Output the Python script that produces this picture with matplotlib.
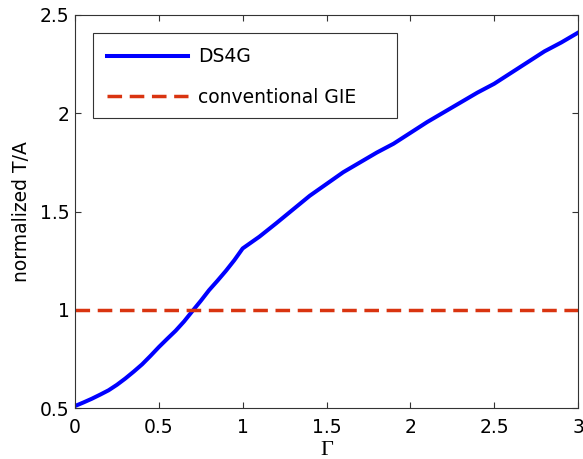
import matplotlib
matplotlib.use('Agg')
import matplotlib.pyplot as plt
from matplotlib.patches import Rectangle

# normalized throughput/area versus Gamma
gamma = [0.0, 0.05, 0.1, 0.15, 0.2, 0.25, 0.3, 0.35, 0.4, 0.45, 0.5,
         0.55, 0.6, 0.65, 0.7, 0.75, 0.8, 0.85, 0.9, 0.95, 1.0,
         1.05, 1.1, 1.2, 1.3, 1.4, 1.5, 1.6, 1.7, 1.8, 1.9, 2.0,
         2.1, 2.2, 2.3, 2.4, 2.5, 2.6, 2.7, 2.8, 2.9, 3.0]
ds4g = [0.51, 0.528, 0.547, 0.568, 0.59, 0.618, 0.65, 0.685, 0.722, 0.765, 0.81,
        0.852, 0.893, 0.94, 0.993, 1.045, 1.10, 1.148, 1.198, 1.252, 1.312,
        1.342, 1.372, 1.44, 1.51, 1.58, 1.64, 1.70, 1.75, 1.80, 1.845, 1.90,
        1.955, 2.005, 2.055, 2.105, 2.15, 2.205, 2.26, 2.315, 2.36, 2.41]
conventional = [1.0] * len(gamma)

x_ticks = [0, 0.5, 1, 1.5, 2, 2.5, 3]
x_ticklabels = ['0', '0.5', '1', '1.5', '2', '2.5', '3']
y_ticks = [0.5, 1, 1.5, 2, 2.5]
y_ticklabels = ['0.5', '1', '1.5', '2', '2.5']

plt.rcParams['font.family'] = ['DejaVu Sans']

W, H = 583, 459
fig = plt.figure(figsize=(W / 100, H / 100), dpi=100)
ax = fig.add_axes([75 / W, 1 - 408 / H, 503 / W, 393 / H])

ax.plot(gamma, ds4g, color='#0000ff', linewidth=2.9, label='DS4G')
ax.plot(gamma, conventional, color='#d93410', linewidth=2.5,
        dashes=(4.2, 2.2), label='conventional GIE')

ax.set_xlim(0, 3)
ax.set_ylim(0.5, 2.5)
ax.set_xticks(x_ticks)
ax.set_xticklabels(x_ticklabels)
ax.set_yticks(y_ticks)
ax.set_yticklabels(y_ticklabels)
ax.tick_params(direction='in', length=4, width=0.8, labelsize=13.5,
               top=True, right=True, colors='#333333', labelcolor='black')
ax.tick_params(axis='x', pad=7)
ax.tick_params(axis='y', pad=4)
for spine in ax.spines.values():
    spine.set_color('#333333')
    spine.set_linewidth(0.8)

ax.set_xlabel('Γ', fontsize=16, labelpad=3, fontfamily='Liberation Serif')
ax.set_ylabel('normalized T/A', fontsize=13.5, labelpad=6)

# legend entries without their own frame; a wider box is drawn behind them
leg = ax.legend(loc='upper left', bbox_to_anchor=(93 / W, 1 - 33 / H),
                bbox_transform=fig.transFigure, borderaxespad=0,
                fontsize=13.5, handlelength=4.3, handletextpad=0.55,
                labelspacing=1.15, borderpad=0.75, frameon=False)
leg.set_zorder(6)
box = Rectangle((93 / W, 1 - 118 / H), 304 / W, 85 / H,
                transform=fig.transFigure, facecolor='white',
                edgecolor='#333333', linewidth=0.8, zorder=5)
ax.add_artist(box)
box.set_clip_on(False)

fig.savefig('out.png', dpi=100)
